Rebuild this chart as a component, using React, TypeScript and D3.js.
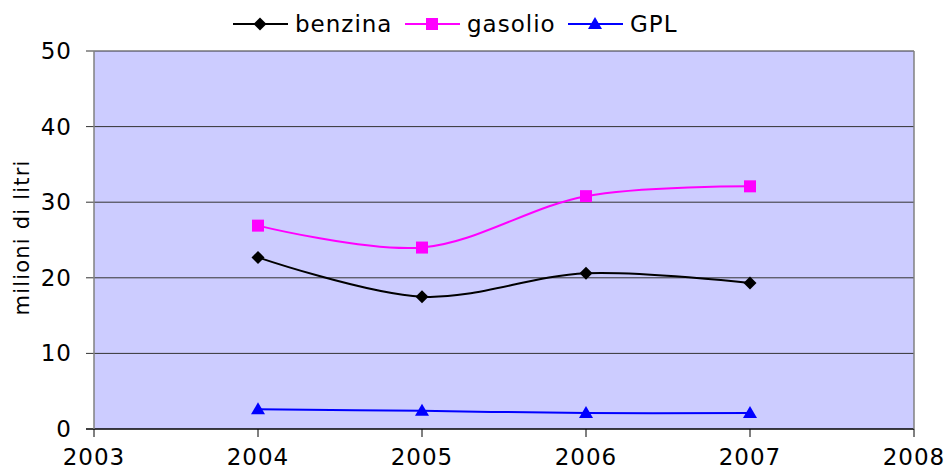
import React from "react";
import * as d3 from "d3";

const years = [2004, 2005, 2006, 2007];
const benzina = [22.7, 17.5, 20.6, 19.3];
const gasolio = [26.9, 24.0, 30.8, 32.1];
const gpl = [2.6, 2.4, 2.1, 2.1];
const xTicks = [2003, 2004, 2005, 2006, 2007, 2008];
const yTicks = [0, 10, 20, 30, 40, 50];
const seriesNames = ["benzina", "gasolio", "GPL"];
const seriesColors = ["#000000", "#FF00FF", "#0000FF"];
const yTitle = "milioni di litri";

const W = 948, H = 474;
const left = 94, right = 914, top = 51, bottom = 429;
const FONT = "DejaVu Sans, Verdana, sans-serif";

function Marker({ kind, x, y, color }: { kind: number; x: number; y: number; color: string }) {
  if (kind === 0) {
    const r = 6.5;
    return <path d={`M${x},${y - r}L${x + r},${y}L${x},${y + r}L${x - r},${y}Z`} fill={color} />;
  }
  if (kind === 1) {
    return <rect x={x - 6} y={y - 6} width={12} height={12} fill={color} />;
  }
  return <path d={`M${x},${y - 7}L${x + 7},${y + 5}L${x - 7},${y + 5}Z`} fill={color} />;
}

export default function App() {
  const x = d3.scaleLinear().domain([2003, 2008]).range([left, right]);
  const y = d3.scaleLinear().domain([0, 50]).range([bottom, top]);
  const data = [benzina, gasolio, gpl];
  const line = d3
    .line<number>()
    .x((_, i) => x(years[i]))
    .y((d) => y(d))
    .curve(d3.curveCatmullRom.alpha(0.5));

  const legendX = [233, 405, 568];

  return (
    <svg width={W} height={H} style={{ position: "absolute", left: 0, top: 0, background: "#fff" }}>
      <rect x={left} y={top} width={right - left} height={bottom - top} fill="#CCCCFF" />
      {yTicks.map((t) => (
        <g key={t}>
          <line x1={left - 8} x2={right} y1={y(t)} y2={y(t)} stroke={t === 0 ? "#000" : "#333"} strokeWidth={t === 0 ? 1.5 : 1} />
          <text x={72} y={y(t)} textAnchor="end" dominantBaseline="central" fontFamily={FONT} fontSize={23} letterSpacing={1} fill="#000">
            {t}
          </text>
        </g>
      ))}
      <line x1={left} x2={left} y1={top} y2={bottom} stroke="#808080" strokeWidth={1.5} />
      <line x1={right} x2={right} y1={top} y2={bottom} stroke="#808080" strokeWidth={1.5} />
      {xTicks.map((t) => (
        <g key={t}>
          <line x1={x(t)} x2={x(t)} y1={bottom} y2={bottom + 8} stroke="#000" strokeWidth={1} />
          <text x={x(t)} y={465} textAnchor="middle" fontFamily={FONT} fontSize={23} letterSpacing={1} fill="#000">
            {t}
          </text>
        </g>
      ))}
      <text
        transform={`translate(22,${(162 + 313) / 2}) rotate(-90)`}
        textAnchor="middle"
        dominantBaseline="central"
        fontFamily={FONT}
        fontSize={21}
        letterSpacing={1.2}
        fill="#000"
      >
        {yTitle}
      </text>
      {data.map((s, si) => (
        <g key={si}>
          <path d={line(s) || ""} fill="none" stroke={seriesColors[si]} strokeWidth={2} />
          {s.map((v, i) => (
            <Marker key={i} kind={si} x={x(years[i])} y={y(v)} color={seriesColors[si]} />
          ))}
        </g>
      ))}
      {seriesNames.map((n, i) => (
        <g key={n}>
          <line x1={legendX[i]} x2={legendX[i] + 55} y1={24} y2={24} stroke={seriesColors[i]} strokeWidth={2} />
          <Marker kind={i} x={legendX[i] + 27} y={24} color={seriesColors[i]} />
          <text x={legendX[i] + 62} y={24} dominantBaseline="central" fontFamily={FONT} fontSize={23} letterSpacing={1} fill="#000">
            {n}
          </text>
        </g>
      ))}
    </svg>
  );
}
